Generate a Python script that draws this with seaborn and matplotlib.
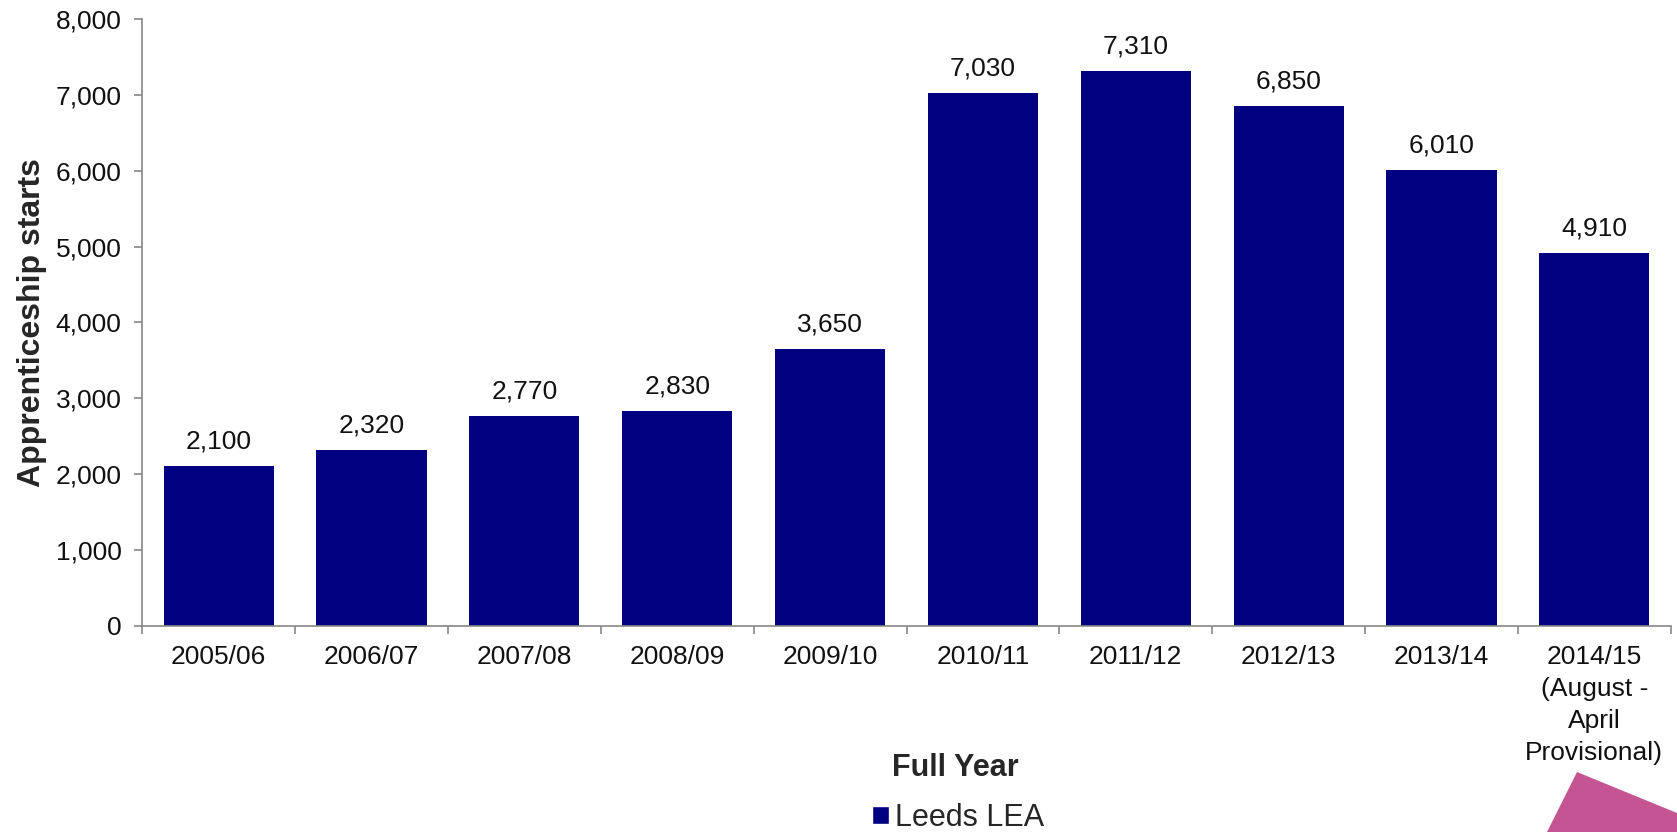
import matplotlib
matplotlib.use("Agg")
import matplotlib.pyplot as plt
import seaborn as sns
import pandas as pd
import numpy as np
from matplotlib.patches import Polygon, Patch

categories = ["2005/06", "2006/07", "2007/08", "2008/09", "2009/10",
              "2010/11", "2011/12", "2012/13", "2013/14",
              "2014/15\n(August -\nApril\nProvisional)"]
values = [2100, 2320, 2770, 2830, 3650, 7030, 7310, 6850, 6010, 4910]
yticks = [0, 1000, 2000, 3000, 4000, 5000, 6000, 7000, 8000]
series_name = "Leeds LEA"
legend_title = "Full Year"
y_label = "Apprenticeship starts"

sns.set_theme(style="white")
plt.rcParams['font.family'] = ['Liberation Sans', 'DejaVu Sans']

df = pd.DataFrame({"cat": categories, "val": values})

fig = plt.figure(figsize=(16.77, 8.32), dpi=100)
ax = fig.add_axes([0.0848, 0.248, 0.9115, 0.729])
sns.barplot(data=df, x="cat", y="val", color="#000080", saturation=1,
            width=0.72, linewidth=0, ax=ax)

ax.set_xlim(-0.5, len(categories) - 0.5)
ax.set_ylim(0, 8000)
ax.set_yticks(yticks)
ax.set_yticklabels([f"{v:,}" for v in yticks], fontsize=19, color="#111111")
ax.set_xlabel("")
ax.set_ylabel(y_label, fontsize=23, fontweight="bold", labelpad=6)
ax.tick_params(axis="x", which="major", length=0, labelsize=19, pad=14,
               labelcolor="#111111")
ax.set_xticks(np.arange(-0.5, len(categories), 1), minor=True)
ax.tick_params(axis="x", which="minor", bottom=True, length=6,
               color="#888888", width=1.2)
ax.tick_params(axis="y", length=6, color="#888888", width=1.2, pad=9,
               direction="out", left=True)
for lbl in ax.get_xticklabels():
    lbl.set_linespacing(1.42)

for s in ["top", "right"]:
    ax.spines[s].set_visible(False)
for s in ["left", "bottom"]:
    ax.spines[s].set_color("#888888")
    ax.spines[s].set_linewidth(1.2)

for i, v in enumerate(values):
    ax.annotate(f"{v:,}", (i, v), xytext=(0, 9), textcoords="offset points",
                ha="center", va="bottom", fontsize=19, color="#111111")

fig.text(955 / 1677, 1 - 768 / 832, legend_title, ha="center", va="center",
         fontsize=22, fontweight="bold")
leg = fig.legend(handles=[Patch(facecolor="#000080", label=series_name)],
                 loc="center", bbox_to_anchor=(958 / 1677, 1 - 818 / 832),
                 frameon=False, fontsize=22, handlelength=0.55, handleheight=0.55,
                 handletextpad=0.2, borderpad=0)

poly = Polygon([(1577 / 1677, 1 - 772 / 832), (1.0, 1 - 813 / 832),
                (1.0, 0.0), (1547 / 1677, 0.0)], closed=True,
               transform=fig.transFigure, facecolor="#C45592", edgecolor="none")
fig.patches.append(poly)

fig.savefig("out.png", dpi=100)
